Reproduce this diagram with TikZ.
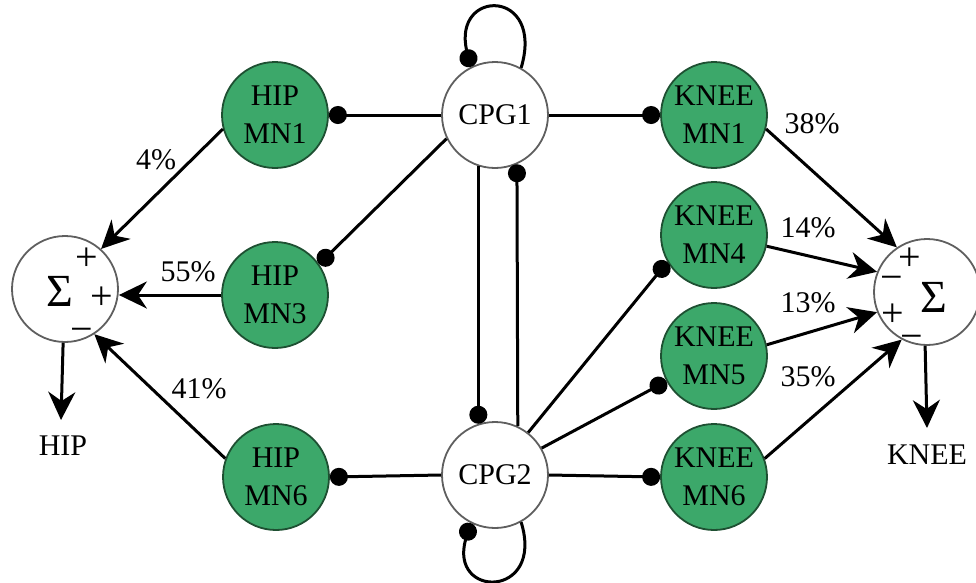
\documentclass[tikz,border=0pt]{standalone}
\usepackage{fontspec}
\setmainfont{Liberation Serif}
\usetikzlibrary{arrows.meta}
\definecolor{mngreen}{RGB}{60,168,106}
\definecolor{mnedge}{RGB}{30,80,50}
\definecolor{edgegray}{RGB}{95,95,95}
\begin{document}
\begin{tikzpicture}[x=1pt,y=-1pt,
  lbl/.style={font=\fontsize{30}{34}\selectfont,inner sep=0pt},
  cpg/.style={circle,draw=edgegray,line width=1.8pt,fill=white,minimum size=106pt,inner sep=0pt,font=\fontsize{30}{34}\selectfont},
  mn/.style={circle,draw=mnedge,line width=1.8pt,fill=mngreen,minimum size=106pt,inner sep=0pt,align=center,font=\fontsize{30}{38}\selectfont},
  sig/.style={circle,draw=edgegray,line width=1.8pt,fill=white,minimum size=106pt,inner sep=0pt},
  sigma/.style={font=\fontsize{46}{46}\selectfont,inner sep=0pt,anchor=base},
  sgn/.style={font=\fontsize{40}{40}\selectfont,inner sep=0pt,anchor=base},
  inh/.style={line width=3pt,-{Circle[length=18pt]}},
  exc/.style={line width=3pt,-{Stealth[length=28pt,width=27pt,inset=9pt]}}
]
\useasboundingbox (0,0) rectangle (976,582);

% nodes
\node[cpg] (c1) at (495,115) {CPG1};
\node[cpg] (c2) at (495,475) {CPG2};
\node[mn] (h1) at (275,115) {HIP\\MN1};
\node[mn] (h3) at (275,295) {HIP\\MN3};
\node[mn] (h6) at (276,477) {HIP\\MN6};
\node[mn] (k1) at (714,115) {KNEE\\MN1};
\node[mn] (k4) at (714,235) {KNEE\\MN4};
\node[mn] (k5) at (714,356) {KNEE\\MN5};
\node[mn] (k6) at (714,477) {KNEE\\MN6};
\node[sig] (sl) at (65,289) {};
\node[sig] (sr) at (927,292) {};

% sigma signs (placed by baseline)
\node[sigma] (slS) at (60,306) {Σ};
\node[sgn] (slp1) at (87,270) {+};
\node[sgn] (slp2) at (102,309) {+};
\node[sgn] (slm) at (82,342) {−};
\node[sigma] (srS) at (934,312) {Σ};
\node[sgn] (srp1) at (910,270) {+};
\node[sgn] (srm1) at (892,290) {−};
\node[sgn] (srp2) at (893,326) {+};
\node[sgn] (srm2) at (912,349) {−};

% outputs
\coordinate (hipout) at (61,420);
\coordinate (kneeout) at (927,428);
\node[lbl] (hipT) at (63,446) {HIP};
\node[lbl] (kneeT) at (927,455) {KNEE};
\draw[exc] (sl.268) -- (hipout);
\draw[exc] (sr.268) -- (kneeout);

% inhibitory connections
\draw[inh] (c1.west) -- (h1.east);
\draw[inh] (c1.206) -- (h3.35);
\draw[inh] (c1.east) -- (k1.west);
\draw[inh] (c1.252) -- (c2.108);
\draw[inh] (c2.65) -- (c1.294);
\draw[inh] (c2.west) -- (h6.east);
\draw[inh] (c2.east) -- (k6.west);
\draw[inh] (c2.52) -- (k4.210);
\draw[inh] (c2.30) -- (k5.208);
\draw[inh] (c1.61) .. controls (545,-12) and (452,-12) .. (c1.117);
\draw[inh] (c2.299) .. controls (545,599) and (448,599) .. (c2.243);

% excitatory to sums
\draw[exc] (h1.195) -- (sl.48);
\draw[exc] (h3.west) -- (sl.east |- h3.west);
\draw[exc] (h6.160) -- (sl.303);
\draw[exc] (k1.-15) -- (sr.124);
\draw[exc] (k4.-12) -- (sr.158);
\draw[exc] (k5.12) -- (sr.202);
\draw[exc] (k6.20) -- (sr.242);

% percentages
\node[lbl] (p4) at (156,160) {4\%};
\node[lbl] (p55) at (188,272) {55\%};
\node[lbl] (p41) at (199,389) {41\%};
\node[lbl] (p38) at (812,124) {38\%};
\node[lbl] (p14) at (808,228) {14\%};
\node[lbl] (p13) at (808,303) {13\%};
\node[lbl] (p35) at (808,377) {35\%};
\end{tikzpicture}
\end{document}
